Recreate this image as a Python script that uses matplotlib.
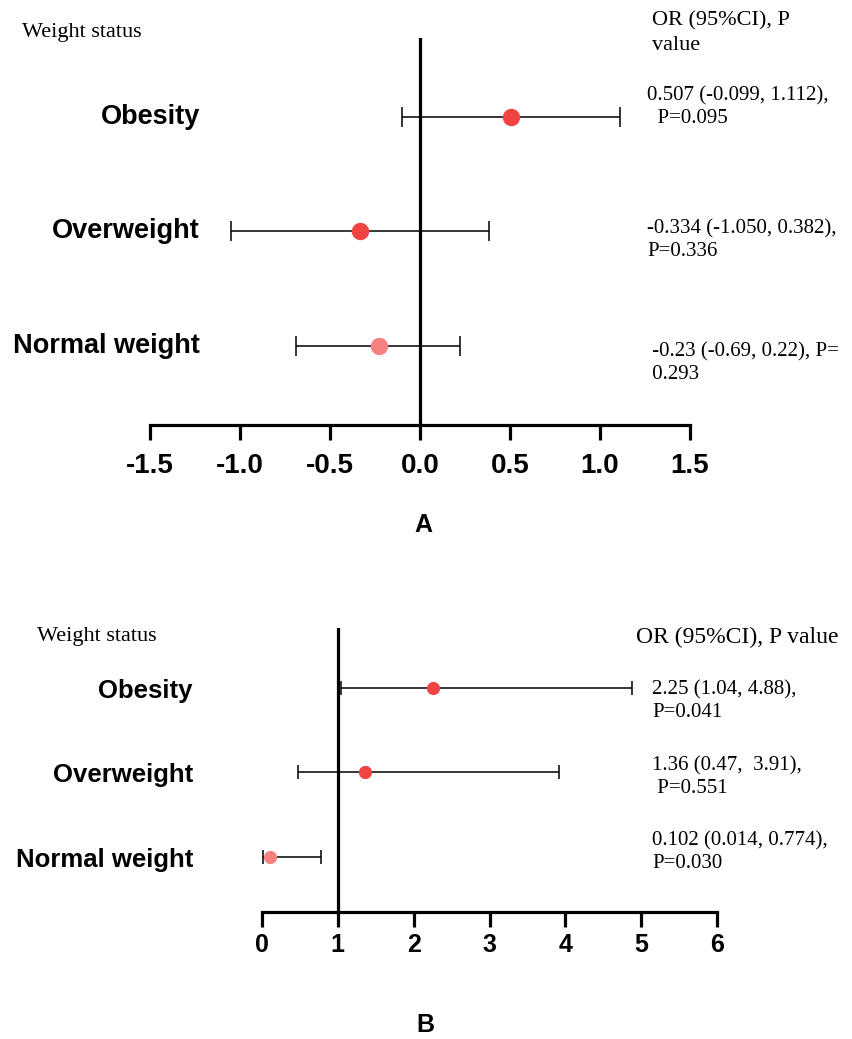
import matplotlib.pyplot as plt
import matplotlib.transforms as mtransforms

# panel A data
groups = ['Obesity', 'Overweight', 'Normal weight']
a_est = [0.507, -0.334, -0.23]
a_lo = [-0.099, -1.050, -0.69]
a_hi = [1.112, 0.382, 0.22]
a_text = ['0.507 (-0.099, 1.112),\n  P=0.095',
          '-0.334 (-1.050, 0.382),\nP=0.336',
          ' -0.23 (-0.69, 0.22), P=\n 0.293']
a_ticks = [-1.5, -1.0, -0.5, 0.0, 0.5, 1.0, 1.5]

# panel B data
b_est = [2.25, 1.36, 0.102]
b_lo = [1.04, 0.47, 0.014]
b_hi = [4.88, 3.91, 0.774]
b_text = ['2.25 (1.04, 4.88),\nP=0.041',
          '1.36 (0.47,  3.91),\n P=0.551',
          '0.102 (0.014, 0.774),\nP=0.030']
b_ticks = [0, 1, 2, 3, 4, 5, 6]

colors = ['#f24343', '#f24343', '#f78080']
rows = [3, 2, 1]

# where the right-hand text blocks sit (pixels from top)
a_text_y = [107, 240, 363]
b_text_y = [701, 777, 852]

sans = 'Liberation Sans'
serif = 'Liberation Serif'

fig = plt.figure(figsize=(8.53, 10.39), dpi=100)
W, H = 853, 1039


def forest(ax, est, lo, hi, ref, xlim, ticks, ticklabels, ylim, msize, cap, tsize, pad):
    for y, e, l, h, c in zip(rows, est, lo, hi, colors):
        ax.errorbar([e], [y], xerr=[[e - l], [h - e]], fmt='o', color=c,
                    ecolor='black', elinewidth=1.1, capsize=cap, capthick=1.1,
                    markersize=msize, zorder=3)
    ax.axvline(ref, color='black', lw=2.3, zorder=2)
    ax.set_xlim(xlim)
    ax.set_ylim(ylim)
    for s in ['left', 'right', 'top']:
        ax.spines[s].set_visible(False)
    ax.spines['bottom'].set_linewidth(2.3)
    ax.set_yticks([])
    ax.set_xticks(ticks)
    ax.set_xticklabels(ticklabels, fontsize=tsize, fontweight='bold', family=sans)
    ax.tick_params(axis='x', direction='out', length=11, width=2.3, pad=pad)
    ax.patch.set_alpha(0)


# ---- A ----
axA = fig.add_axes([150 / W, 1 - 425 / H, 540 / W, 387 / H])
forest(axA, a_est, a_lo, a_hi, 0, (-1.5, 1.5), a_ticks,
       ['%.1f' % t for t in a_ticks], (0.31, 3.69), 11.5, 7, 20, 9)
trA = mtransforms.blended_transform_factory(fig.transFigure, axA.transData)
for y, g in zip(rows, groups):
    axA.text(200 / W, y, g, transform=trA, ha='right', va='center',
             fontsize=19.5, fontweight='bold', family=sans)
for yp, t in zip(a_text_y, a_text):
    fig.text(647 / W, 1 - yp / H, t, ha='left', va='center',
             fontsize=15, family=serif, linespacing=1.3)
fig.text(22 / W, 1 - 32 / H, 'Weight status', ha='left', va='center',
         fontsize=16, family=serif)
fig.text(652 / W, 1 - 33 / H, 'OR (95%CI), P\nvalue', ha='left', va='center',
         fontsize=16, family=serif, linespacing=1.4)
fig.text(423 / W, 1 - 525 / H, 'A', ha='center', va='center',
         fontsize=18, fontweight='bold', family=sans)

# ---- B ----
axB = fig.add_axes([262 / W, 1 - 912 / H, 455 / W, 284 / H])
forest(axB, b_est, b_lo, b_hi, 1, (0, 6), b_ticks,
       [str(t) for t in b_ticks], (0.349, 3.71), 8.5, 5, 18, 4)
trB = mtransforms.blended_transform_factory(fig.transFigure, axB.transData)
for y, g in zip(rows, groups):
    axB.text(193 / W, y - 0.03, g, transform=trB, ha='right', va='center',
             fontsize=18.5, fontweight='bold', family=sans)
for yp, t in zip(b_text_y, b_text):
    fig.text(652 / W, 1 - yp / H, t, ha='left', va='center',
             fontsize=15, family=serif, linespacing=1.3)
fig.text(37 / W, 1 - 637 / H, 'Weight status', ha='left', va='center',
         fontsize=16, family=serif)
fig.text(636 / W, 1 - 637 / H, 'OR (95%CI), P value', ha='left', va='center',
         fontsize=17, family=serif)
fig.text(425 / W, 1 - 1025 / H, 'B', ha='center', va='center',
         fontsize=18, fontweight='bold', family=sans)

fig.savefig('out.png', dpi=100)
